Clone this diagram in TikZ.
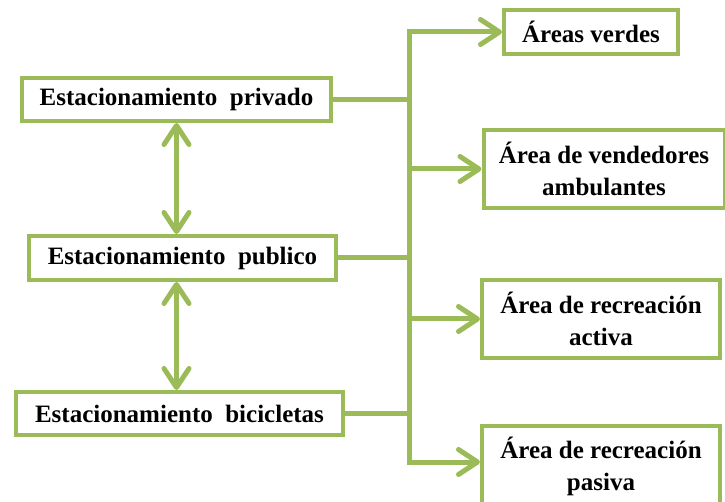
\documentclass[tikz,border=0pt]{standalone}
\usepackage{fontspec}
\setmainfont{Liberation Serif}
\usetikzlibrary{arrows.meta}
\definecolor{grn}{HTML}{9BBB59}
\begin{document}
\begin{tikzpicture}[x=1pt,y=-1pt,
  box/.style={draw=grn, line width=4pt, fill=white, inner sep=0pt, align=center,
    font=\bfseries\fontsize{25}{32}\selectfont},
  ln/.style={draw=grn, line width=5pt},
  arr/.style={ln, -{Straight Barb[length=19pt,width=25pt,line cap=round,line join=round]}},
  dbl/.style={ln, {Straight Barb[length=19pt,width=25pt,line cap=round,line join=round]}-{Straight Barb[length=19pt,width=25pt,line cap=round,line join=round]}}]
\useasboundingbox (0,0) rectangle (725,502);
\clip (0,0) rectangle (725,502);
% left boxes
\node[box, minimum width=309pt, minimum height=43pt] (priv) at (176.5,99.5) {Estacionamiento\ \ privado};
\node[box, minimum width=307pt, minimum height=44pt] (pub) at (182.5,258) {Estacionamiento\ \ publico};
\node[box, minimum width=327pt, minimum height=43pt] (bic) at (179.5,413.5) {Estacionamiento\ \ bicicletas};
% right boxes
\node[box, minimum width=174pt, minimum height=44pt] (verdes) at (591,32) {Áreas verdes};
\node[box, minimum width=241pt, minimum height=78pt] (vend) at (604,169) {Área de vendedores\\ambulantes};
\node[box, minimum width=238pt, minimum height=78pt] (act) at (601,319) {Área de recreación\\activa};
\node[box, minimum width=238pt, minimum height=80pt] (pas) at (601,466) {Área de recreación\\pasiva};
% trunk
\coordinate (tTop) at (409,32);
\coordinate (tBot) at (409,462);
\draw[arr] (tBot) -- (tTop) -- (verdes.west);
\draw[arr] (tTop) -- (tBot) -- (tBot -| pas.west);
\draw[arr] (tTop |- vend.west) -- (vend.west);
\draw[arr] (tTop |- act.west) -- (act.west);
% left connectors
\draw[ln] (priv.east) -- (priv.east -| tTop);
\draw[ln] (pub.east) -- (pub.east -| tTop);
\draw[ln] (bic.east) -- (bic.east -| tTop);
% double arrows
\draw[dbl] (priv.south) -- (priv.south |- pub.north);
\draw[dbl] (pub.south -| priv.south) -- (priv.south |- bic.north);
\end{tikzpicture}
\end{document}
